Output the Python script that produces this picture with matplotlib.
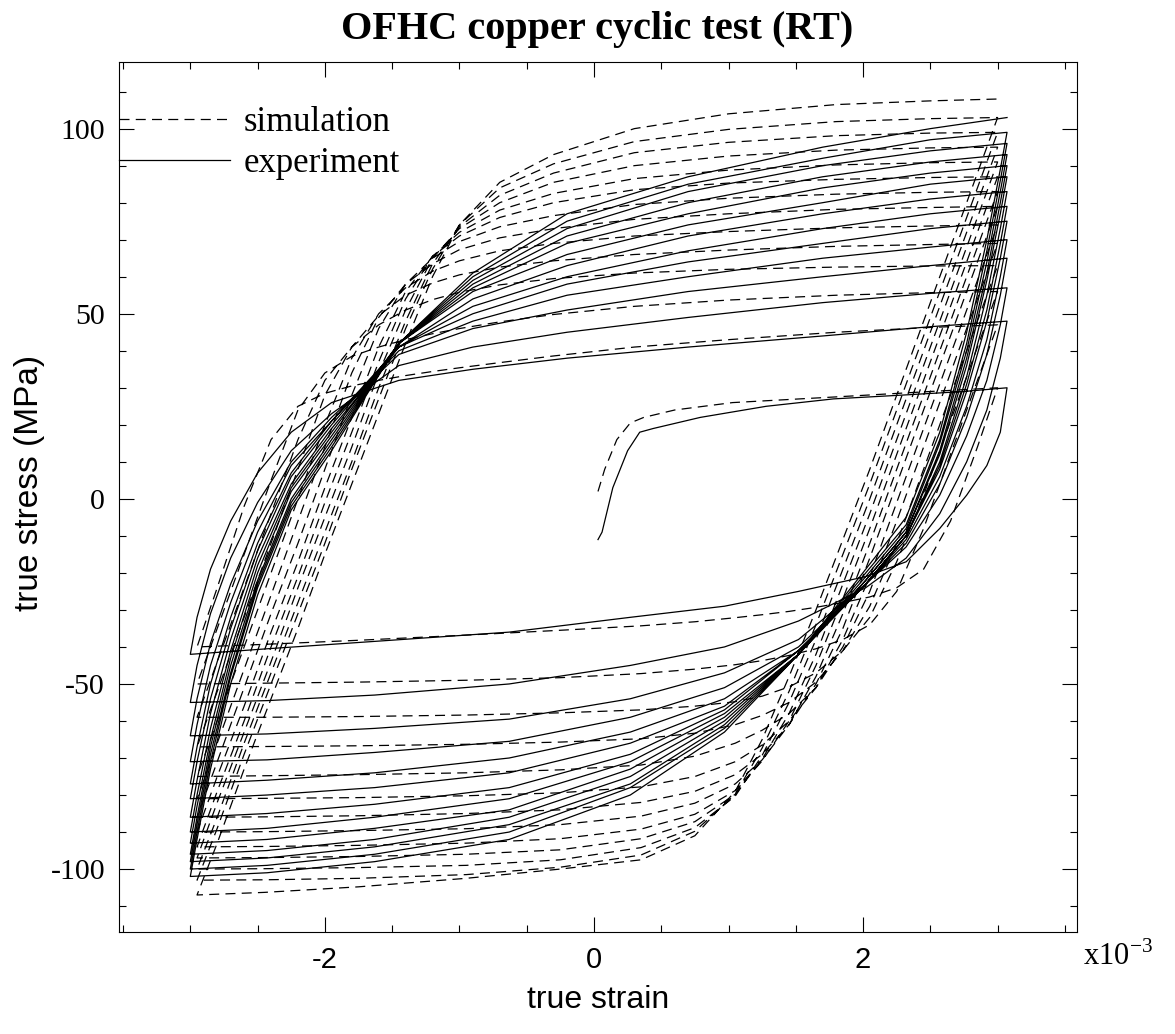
import matplotlib
matplotlib.use("Agg")
import matplotlib.pyplot as plt
from matplotlib.ticker import MultipleLocator, FixedLocator

# strain in units of 1e-3, stress in MPa

# ---------------- experiment (solid) ----------------
EXP_INIT_STRAIN = [0.03, 0.06, 0.14, 0.25, 0.34, 0.44, 0.79, 1.28, 1.78, 2.28, 2.75, 3.07]
EXP_INIT_STRESS = [-11, -9, 3, 13, 18, 19, 22, 25, 27, 28, 29, 30]

# reloading branches (compression tip -> tension tip)
EXP_UP_STRAIN = [-3.00, -2.95, -2.85, -2.70, -2.50, -2.25, -1.95, -1.45, -0.90, -0.20, 0.70, 1.70, 2.50, 3.07]
EXP_UP_STRESS = [
    [-42, -32, -19, -6, 7, 18, 26, 32, 35, 38, 41, 44, 46.5, 48],
    [-55, -45, -31, -16, -1, 13, 23, 36, 41, 45, 49, 53, 55.5, 57],
    [-64, -54, -39, -23, -6, 10, 22, 39, 46, 51, 56, 60, 63, 65],
    [-71, -61, -45, -28, -9, 9, 21, 40, 48, 55, 60, 65, 68, 70],
    [-77, -67, -50, -32, -12, 7, 21, 41, 50, 58, 64, 69, 73, 75],
    [-81, -71, -54, -35, -14, 6, 20, 41, 52, 60, 67, 73, 77, 79],
    [-86, -76, -58, -38, -16, 4, 19, 41, 54, 63, 71, 77, 81, 83],
    [-90, -80, -62, -41, -18, 3, 18, 42, 56, 66, 74, 80, 85, 87],
    [-93, -83, -65, -43, -20, 2, 17, 42, 57, 69, 77, 84, 88, 90],
    [-96, -86, -67, -45, -22, 0, 16, 42, 58, 71, 80, 87, 91, 93],
    [-98, -88, -69, -47, -23, -1, 15, 42, 59, 73, 83, 90, 94, 96],
    [-100, -90, -71, -48, -24, -2, 14, 42, 60, 75, 85, 92, 97, 99],
    [-102, -92, -73, -50, -26, -3, 13, 42, 61, 77, 87, 95, 100, 103],
]

# unloading branches (tension tip -> compression tip)
EXP_DOWN_STRAIN = [3.07, 3.02, 2.92, 2.77, 2.57, 2.32, 2.02, 1.52, 0.97, 0.27, -0.63, -1.63, -2.43, -3.00]
EXP_DOWN_STRESS = [
    [30, 18, 9, 1, -8, -17, -21, -25, -29, -32, -36, -38.5, -40.5, -42],
    [48, 38, 24, 10, -4, -16, -24, -33, -40, -45, -50, -53, -54.5, -55],
    [57, 47, 32, 17, 1, -13, -23, -38, -47, -54, -59.5, -62, -63.5, -64],
    [65, 55, 39, 22, 4, -12, -23, -40, -51, -59, -65.5, -68.5, -70.5, -71],
    [70, 60, 43, 25, 6, -11, -23, -41, -54, -63, -70, -74, -76, -77],
    [75, 65, 48, 29, 8, -10, -23, -41, -56, -66, -74, -78, -80, -81],
    [79, 69, 51, 31, 9, -10, -23, -41, -57, -69, -78, -82.5, -85, -86],
    [83, 73, 55, 33, 10, -10, -23, -42, -58, -71, -81, -86, -89, -90],
    [87, 77, 59, 36, 12, -9, -22, -42, -59, -73, -84, -89, -92, -93],
    [90, 80, 61, 38, 13, -9, -22, -42, -60, -75, -86, -92, -95, -96],
    [93, 83, 64, 40, 15, -8, -21, -42, -61, -77, -88, -94, -97, -98],
    [96, 86, 67, 42, 16, -7, -20, -42, -62, -78, -90, -96, -99, -100],
    [99, 89, 70, 45, 18, -5, -19, -42, -63, -80, -92, -98, -101, -102],
]

# ---------------- simulation (dashed) ----------------
SIM_INIT_STRAIN = [0.03, 0.08, 0.17, 0.27, 0.37, 0.60, 1.03, 1.78, 2.50, 3.00]
SIM_INIT_STRESS = [2, 8, 16, 20.5, 22, 24, 26, 27.5, 29, 30]

SIM_UP_STRAIN = [-2.95, -2.80, -2.60, -2.40, -2.20, -2.00, -1.80, -1.60, -1.40, -1.20,
                 -1.00, -0.70, -0.30, 0.30, 1.00, 1.80, 2.50, 3.00]
SIM_UP_STRESS = [
    [-40, -24, -2, 16, 25, 28.5, 30.5, 32, 33.3, 34.4, 35.4, 36.8, 38.6, 41, 43, 45, 46.3, 47],
    [-50, -35, -15, 5, 24, 34, 38.5, 41, 43, 44.6, 46, 47.8, 49.8, 52, 53.7, 55, 55.7, 56],
    [-59, -44, -24, -4, 16, 32, 41, 47, 51, 53.8, 55.8, 57.8, 59.5, 61, 62, 62.6, 62.9, 63],
    [-67, -52, -32, -12, 8, 28, 41, 49.5, 55, 58.3, 60.5, 62.6, 64.3, 66, 67.2, 68.2, 68.7, 69],
    [-75, -60, -40, -20, 0, 20, 38, 50, 57, 61.5, 64.3, 67, 69, 71, 72.2, 73.2, 73.7, 74],
    [-81, -66, -46, -26, -6, 14, 34, 49, 58, 63.5, 67.3, 70.5, 73, 75.5, 77, 78.2, 78.7, 79],
    [-86, -71, -51, -31, -12, 8, 28, 46, 58, 65, 69.5, 73.5, 76.5, 79.5, 81.2, 82.3, 82.8, 83],
    [-90, -75, -56, -36, -17, 3, 22, 41, 56, 65.5, 71, 76, 80, 83.5, 85.3, 86.3, 86.8, 87],
    [-94, -79, -60, -40, -21, -1, 18, 37, 54, 65.5, 72, 78, 82.5, 86.5, 88.8, 90.2, 90.8, 91],
    [-97, -82, -63, -44, -24, -5, 14, 34, 51, 65, 73, 80, 85.5, 90, 92.6, 94.2, 94.8, 95],
    [-100, -86, -66, -47, -28, -9, 10, 30, 48, 63.5, 73.5, 82, 88, 93.5, 96.3, 98.1, 98.8, 99],
    [-103, -89, -69, -50, -31, -12, 8, 27, 46, 62, 74, 84, 90.5, 96.5, 99.8, 101.9, 102.7, 103],
    [-107, -93, -73, -54, -35, -15, 4, 23, 42, 60, 74, 85.5, 93, 100, 104, 106.5, 107.5, 108],
]

SIM_DOWN_STRAIN = [3.00, 2.85, 2.65, 2.45, 2.25, 2.05, 1.85, 1.65, 1.45, 1.25,
                   1.05, 0.75, 0.35, -0.25, -0.95, -1.75, -2.45, -2.95]
SIM_DOWN_STRESS = [
    [30, 14, -6, -19, -24, -26.5, -28, -29.3, -30.4, -31.3, -32.1, -33.2, -34.3, -35.5, -36.8, -38.2, -39.3, -40],
    [47, 32, 12, -8, -25, -34, -38, -40.5, -42.3, -43.7, -44.8, -46, -47.2, -48.3, -49, -49.5, -49.8, -50],
    [56, 41, 21, 1, -17, -32, -41, -47, -50.8, -53.3, -54.8, -56, -57, -57.8, -58.4, -58.8, -59, -59],
    [63, 48, 28, 8, -12, -29, -41, -49.5, -55, -58.5, -61, -63.3, -64.8, -65.7, -66.3, -66.7, -66.9, -67],
    [69, 54, 34, 14, -6, -25, -40, -51, -58, -62.5, -66, -69.5, -71.9, -73.2, -74, -74.5, -74.8, -75],
    [74, 59, 39, 19, -1, -21, -38, -51, -60, -66.5, -71, -75, -77.8, -79.4, -80.2, -80.7, -80.9, -81],
    [79, 64, 44, 24, 4, -16, -35, -50, -61, -69, -74.5, -79, -82, -84, -85, -85.6, -85.9, -86],
    [83, 68, 48, 28, 8, -12, -31, -48, -61, -70.5, -77, -82.2, -85.7, -88, -89.1, -89.6, -89.9, -90],
    [87, 72, 52, 32, 12, -8, -27, -45, -60, -70.8, -78.8, -85.2, -89.2, -91.8, -93, -93.6, -93.9, -94],
    [91, 76, 56, 36, 16, -4, -23, -42, -58, -70.3, -79.8, -87.2, -91.8, -94.8, -96, -96.6, -96.9, -97],
    [95, 80, 60, 40, 20, 0, -19, -38, -55, -69.3, -80.3, -88.8, -94.2, -97.5, -99, -99.6, -99.9, -100],
    [99, 84, 64, 44, 24, 4, -15, -34, -52, -67.3, -79.8, -89.8, -96.2, -99.5, -101.5, -102.5, -102.9, -103],
    [103, 88, 68, 48, 28, 8, -11, -30, -48, -65, -79, -91, -97.5, -100, -102.5, -104.8, -106.3, -107],
]


def build_path(init_x, init_y, down_x, down_rows, up_x, up_rows):
    xs = list(init_x)
    ys = list(init_y)
    for down_y, up_y in zip(down_rows, up_rows):
        xs += down_x
        ys += down_y
        xs += up_x
        ys += up_y
    return xs, ys


serif = ["Liberation Serif", "DejaVu Serif"]
sans = ["Liberation Sans", "DejaVu Sans"]
plt.rcParams["axes.unicode_minus"] = False
plt.rcParams["mathtext.fontset"] = "custom"
plt.rcParams["mathtext.rm"] = "Liberation Serif"

fig = plt.figure(figsize=(11.75, 10.34), dpi=100)
ax = fig.add_axes([119 / 1175, 102 / 1034, 958 / 1175, 870 / 1034])

sx, sy = build_path(SIM_INIT_STRAIN, SIM_INIT_STRESS, SIM_DOWN_STRAIN, SIM_DOWN_STRESS,
                    SIM_UP_STRAIN, SIM_UP_STRESS)
ex, ey = build_path(EXP_INIT_STRAIN, EXP_INIT_STRESS, EXP_DOWN_STRAIN, EXP_DOWN_STRESS,
                    EXP_UP_STRAIN, EXP_UP_STRESS)

ax.plot(sx, sy, color="black", lw=0.9, linestyle=(0, (8, 5)), label="simulation")
ax.plot(ex, ey, color="black", lw=0.9, label="experiment")

ax.set_xlim(-3.53, 3.59)
ax.set_ylim(-117, 118)

ax.xaxis.set_major_locator(FixedLocator([-2, 0, 2]))
ax.xaxis.set_minor_locator(MultipleLocator(0.5))
ax.yaxis.set_major_locator(MultipleLocator(50))
ax.yaxis.set_minor_locator(MultipleLocator(10))
ax.tick_params(which="both", direction="in", top=True, right=True, width=0.8)
ax.tick_params(which="major", length=11, pad=10)
ax.tick_params(which="minor", length=5)
for lab in ax.get_xticklabels():
    lab.set_family(sans)
    lab.set_fontsize(21)
for lab in ax.get_yticklabels():
    lab.set_family(serif)
    lab.set_fontsize(21.5)
for sp in ax.spines.values():
    sp.set_linewidth(0.8)

leg = ax.legend(loc="upper left", bbox_to_anchor=(0.0, 0.949), frameon=False,
                borderpad=0, borderaxespad=0, handlelength=3.2, handletextpad=0.4,
                labelspacing=0.22, prop={"family": serif, "size": 25})

fig.text(0.508, 0.971, "OFHC copper cyclic test (RT)", ha="center", va="center",
         family=serif, fontweight="bold", fontsize=29)
fig.text(0.509, 0.033, "true strain", ha="center", va="center", family=sans, fontsize=23)
fig.text(0.0255, 0.533, "true stress (MPa)", ha="center", va="center", rotation=90,
         family=sans, fontsize=24)
fig.text(0.922, 0.0745, r"x10$^{-3}$", ha="left", va="center", family=serif, fontsize=22)

fig.savefig("out.png", dpi=100, facecolor="white")
